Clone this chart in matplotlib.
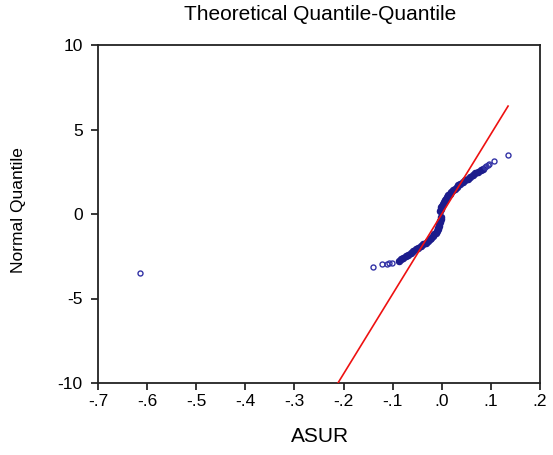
import matplotlib
matplotlib.use("Agg")
import numpy as np
import matplotlib.pyplot as plt
from matplotlib.ticker import FuncFormatter

plt.rcParams['font.family'] = ['Liberation Sans', 'DejaVu Sans']
plt.rcParams['axes.unicode_minus'] = False

# ASUR values (x) and their theoretical normal quantiles (y)
# dense middle part of the plot (markers overlap into a solid band)
asur_dense = [-0.088, -0.083, -0.078, -0.073, -0.068, -0.063, -0.058, -0.053, -0.048, -0.043,
              -0.038, -0.033, -0.029, -0.025, -0.021, -0.018, -0.015, -0.012, -0.010, -0.008,
              -0.007, -0.006, -0.005, -0.004, -0.003, -0.002, -0.001,
              -0.003, -0.002, -0.001, 0.000, 0.002, 0.004, 0.006, 0.008, 0.010, 0.013,
              0.016, 0.019, 0.022, 0.026, 0.030, 0.034, 0.038, 0.043, 0.048, 0.053,
              0.058, 0.063, 0.068, 0.074, 0.080, 0.084]
quant_dense = [-2.76, -2.68, -2.60, -2.50, -2.40, -2.30, -2.20, -2.10, -2.00, -1.90,
               -1.80, -1.70, -1.60, -1.50, -1.40, -1.30, -1.20, -1.10, -1.00, -0.90,
               -0.80, -0.70, -0.60, -0.50, -0.40, -0.30, -0.20,
               0.20, 0.30, 0.40, 0.50, 0.60, 0.70, 0.80, 0.90, 1.00, 1.10,
               1.20, 1.30, 1.40, 1.50, 1.60, 1.70, 1.80, 1.90, 2.00, 2.10,
               2.20, 2.30, 2.40, 2.50, 2.60, 2.68]

# sparse tails
asur_tail = [-0.615, -0.140, -0.122, -0.112, -0.107, -0.102,
             0.088, 0.091, 0.094, 0.097, 0.107, 0.134]
quant_tail = [-3.48, -3.15, -2.97, -2.93, -2.90, -2.88,
              2.80, 2.86, 2.92, 2.98, 3.15, 3.50]

# reference line
line_slope = 47.3
line_intercept = 0.0
line_x = [-0.2114, 0.135]

x_ticks = [-0.7, -0.6, -0.5, -0.4, -0.3, -0.2, -0.1, 0.0, 0.1, 0.2]
y_ticks = [-10, -5, 0, 5, 10]

fig = plt.figure(figsize=(5.53, 4.55), dpi=100)
ax = fig.add_axes([98 / 553, 72 / 455, 442 / 553, 338 / 455])

lx = np.array(line_x)
ax.plot(lx, line_slope * lx + line_intercept, color='#ee1111', lw=1.2, zorder=3)

ax.plot(asur_dense, quant_dense, linestyle='none', marker='o', markersize=4.4,
        mfc='#1c1c8c', mec='#1c1c8c', mew=1.0, zorder=2)
ax.plot(asur_tail, quant_tail, linestyle='none', marker='o', markersize=3.6, mfc='none',
        mec='#3333a6', mew=1.0, zorder=2)

ax.set_xlim(-0.7, 0.2)
ax.set_ylim(-10, 10)
ax.set_xticks(x_ticks)
ax.set_yticks(y_ticks)


def fmt_x(v, pos):
    s = "%.1f" % v
    if s == "-0.0":
        s = "0.0"
    return s.replace("0.", ".", 1)


ax.xaxis.set_major_formatter(FuncFormatter(fmt_x))
ax.tick_params(direction='out', length=5, width=1.1, labelsize=12.5, top=False, right=False)
ax.tick_params(axis='y', pad=6)
ax.tick_params(axis='x', pad=3)
for sp in ax.spines.values():
    sp.set_linewidth(1.3)
    sp.set_color('#222222')

fig.text(0.578, 1 - 14 / 455, "Theoretical Quantile-Quantile", ha='center', va='center', fontsize=15)
fig.text(320 / 553, 18 / 455, "ASUR", ha='center', va='center', fontsize=15)
fig.text(18.5 / 553, 1 - 210 / 455, "Normal Quantile", ha='center', va='center',
         rotation=90, fontsize=12.5)

fig.savefig("out.png", dpi=100)
